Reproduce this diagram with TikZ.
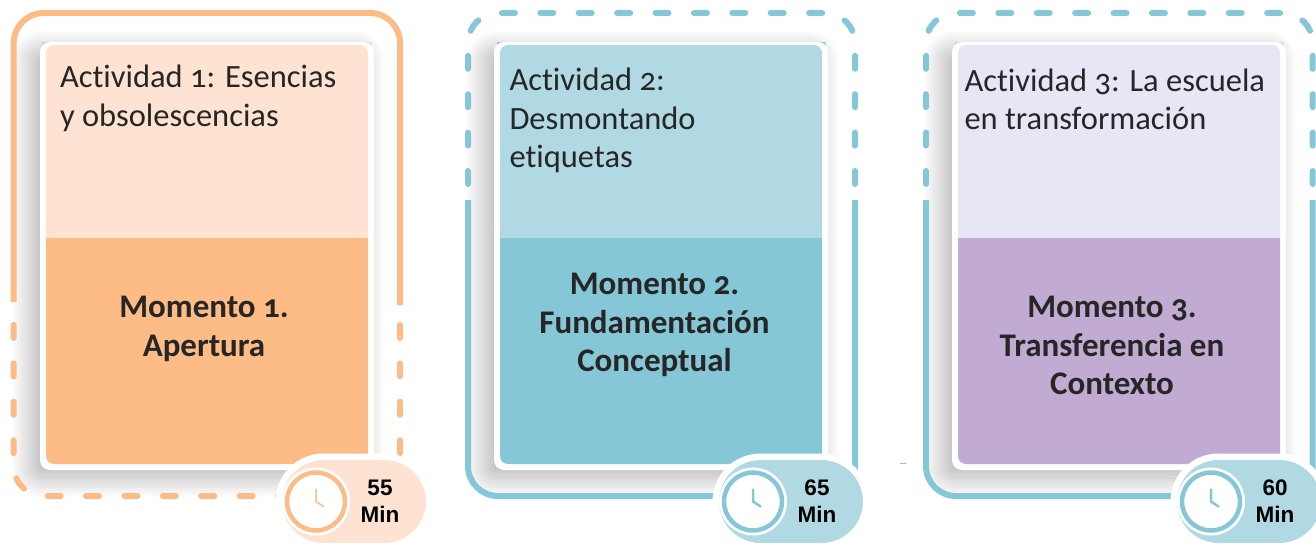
\documentclass[tikz,border=0pt]{standalone}
\usepackage{fontspec}
\setmainfont{Carlito}[Numbers=OldStyle,Ligatures=NoCommon]
\newfontfamily\timefont{Liberation Sans}
\usetikzlibrary{shadows.blur}
\definecolor{peach}{HTML}{FDBB86}
\definecolor{peachlight}{HTML}{FEE3D2}
\definecolor{teal}{HTML}{86C7D7}
\definecolor{teallight}{HTML}{B0D9E4}
\definecolor{lilac}{HTML}{C1ABD3}
\definecolor{lilaclight}{HTML}{E7E6F5}
\definecolor{ink}{HTML}{262626}
\tikzstyle{card} = [rectangle, rounded corners = 10pt, minimum width = 334pt, minimum height = 428pt, inner sep = 0pt, outer sep = 0pt, fill = white, blur shadow = {shadow xshift = -9pt, shadow yshift = -8pt, shadow blur radius = 20pt, shadow blur steps = 24, shadow opacity = 30}]
\tikzstyle{activity} = [text width = 320pt, align = flush left, inner sep = 0pt, text = ink, font = \fontsize{32.5}{38.5}\selectfont]
\tikzstyle{moment} = [text width = 310pt, align = flush center, inner sep = 0pt, text = ink, font = \fontsize{33}{38.8}\selectfont\bfseries]
\tikzstyle{frame} = [line width = 6pt, rounded corners = 30pt]
\tikzstyle{gaps} = [frame, line cap = round, dash pattern = on 13pt off 25.4pt]
\tikzstyle{badge} = [rectangle, rounded corners = 44.7pt, minimum width = 150.5pt, minimum height = 89.5pt, outer sep = 0pt, draw = white, line width = 6.5pt]
\tikzstyle{clock} = [circle, minimum size = 58pt, inner sep = 0pt, outer sep = 0pt, fill = white, line width = 4.5pt, preaction = {draw = white, line width = 10pt}]
\tikzstyle{time} = [align = center, inner sep = 0pt, font = \fontsize{22.5}{27}\selectfont\timefont\bfseries]
\tikzstyle{hand} = [line width = 2pt, line cap = round, line join = round]

\begin{document}
\begin{tikzpicture}[x = 1pt, y = -1pt, node distance = 450pt]
	\useasboundingbox (0,0) rectangle (1316,548);

	% slivers behind the cards
	\fill [peachlight](42,42) rectangle (372,60);
	\fill [teallight](497,42) rectangle (826,60);
	\fill [lilaclight](955,42) rectangle (1284,60);

	% cards
	\node[card](card 1) at (207,256){};
	\node[card,right of =card 1,xshift = 4pt](card 2){};
	\node[card,right of =card 2,xshift = 8pt](card 3){};

	% frames
	\draw [frame,peach](13.7,302)--(13.7,13)--(400,13)--(400,305);
	\draw [gaps,peach](13.7,325)--(13.7,496)--(300,496);
	\draw [gaps,peach](400,325)--(400,480);

	\draw [frame,teal](468,200)--(468,496)--(855,496)--(855,200);
	\draw [gaps,teal](468,184)--(468,13)--(825,13);
	\draw [gaps,teal](855,184)--(855,13)--(825,13);

	\draw [frame,teal](926,200)--(926,496)--(1312.7,496)--(1312.7,200);
	\draw [gaps,teal](926,184)--(926,13)--(1283,13);
	\draw [gaps,teal](1312.7,184)--(1312.7,13)--(1283,13);
	\draw [teal,line width = 1pt](900,463)--(906,463);

	\fill [peachlight,rounded corners = 8pt](46,238)--(46,45)--(368,45)--(368,100)[sharp corners]--(368,238)--cycle;
	\fill [peach,rounded corners = 8pt](46,238)--(46,464)--(368,464)--(368,300)[sharp corners]--(368,238)--cycle;
	\fill [teallight,rounded corners = 8pt](500,238)--(500,45)--(822,45)--(822,100)[sharp corners]--(822,238)--cycle;
	\fill [teal,rounded corners = 8pt](500,238)--(500,464)--(822,464)--(822,300)[sharp corners]--(822,238)--cycle;
	\fill [lilaclight,rounded corners = 8pt](958,238)--(958,45)--(1280,45)--(1280,100)[sharp corners]--(1280,238)--cycle;
	\fill [lilac,rounded corners = 8pt](958,238)--(958,464)--(1280,464)--(1280,300)[sharp corners]--(1280,238)--cycle;

	% texts
	\node[activity](activity 1) at (220,98.5){Actividad 1: Esencias\\y obsolescencias};
	\node[activity,right of =activity 1,xshift = -0.5pt,yshift = -22pt](activity 2){Actividad 2:\\Desmontando\\etiquetas};
	\node[activity,right of =activity 2,xshift = 5pt,yshift = 21pt](activity 3){Actividad 3: La escuela\\en transformación};

	\node[moment](moment 1) at (204,328.5){Momento 1.\\Apertura};
	\node[moment,right of =moment 1,xshift = 0.5pt,yshift = 3.5pt](moment 2){Momento 2.\\Fundamentación\\Conceptual};
	\node[moment,right of =moment 2,xshift = 7.5pt,yshift = -20.5pt](moment 3){Momento 3.\\Transferencia en\\Contexto};

	% badges
	\node[badge,fill = peachlight](badge 1) at (354,501.5){};
	\node[badge,fill = teallight,right of =badge 1,xshift = -13pt](badge 2){};
	\node[badge,fill = teallight,right of =badge 2,xshift = 8pt](badge 3){};

	\node[clock,draw = peach,left of =badge 1,xshift = 412pt](clock 1){};
	\node[clock,draw = teal,left of =badge 2,xshift = 412pt](clock 2){};
	\node[clock,draw = teal,left of =badge 3,xshift = 412pt](clock 3){};

	\draw [hand,peach,line width = 1.5pt](clock 1.center)++(0,-12)--(clock 1.center)--++(7.5,5);
	\draw [hand,teal,line width = 2.5pt](clock 2.center)++(0,-12)--(clock 2.center)--++(7.5,5);
	\draw [hand,teal,line width = 2.5pt](clock 3.center)++(0,-12)--(clock 3.center)--++(7.5,5);

	\node[time,right of =badge 1,xshift = -424pt](time 1){55\\Min};
	\node[time,right of =badge 2,xshift = -424pt](time 2){65\\Min};
	\node[time,right of =badge 3,xshift = -424pt](time 3){60\\Min};

\end{tikzpicture}
\end{document}
